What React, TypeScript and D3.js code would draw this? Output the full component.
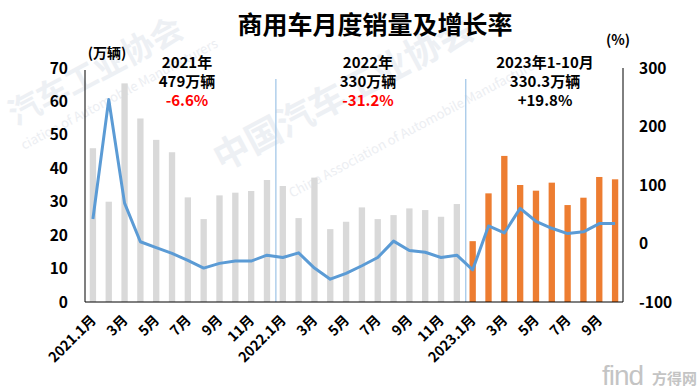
import { useMemo } from 'react';
import * as d3 from 'd3';

const months = [
  '2021.1', '2021.2', '2021.3', '2021.4', '2021.5', '2021.6', '2021.7', '2021.8', '2021.9', '2021.10', '2021.11', '2021.12',
  '2022.1', '2022.2', '2022.3', '2022.4', '2022.5', '2022.6', '2022.7', '2022.8', '2022.9', '2022.10', '2022.11', '2022.12',
  '2023.1', '2023.2', '2023.3', '2023.4', '2023.5', '2023.6', '2023.7', '2023.8', '2023.9', '2023.10',
];

// monthly sales, 万辆
const sales = [
  46.0, 30.0, 65.4, 54.9, 48.5, 44.8, 31.3, 24.8, 31.9, 32.7, 33.2, 36.5,
  34.7, 25.1, 37.2, 21.8, 24.0, 28.3, 24.8, 26.0, 28.0, 27.5, 25.5, 29.3,
  18.2, 32.5, 43.7, 35.0, 33.3, 35.7, 29.0, 31.2, 37.4, 36.7,
];

// year-on-year growth, %
const growth = [
  42, 246, 69, 3, -7, -17, -29, -42, -34, -30, -30, -20,
  -24, -16, -42, -61, -51, -38, -24, 4, -12, -15, -24, -20,
  -45, 30, 18, 60, 38, 26, 17, 20, 34, 34,
];

const xLabels = [
  '2021.1月', '', '3月', '', '5月', '', '7月', '', '9月', '', '11月', '',
  '2022.1月', '', '3月', '', '5月', '', '7月', '', '9月', '', '11月', '',
  '2023.1月', '', '3月', '', '5月', '', '7月', '', '9月', '',
];

const leftTicks = [0, 10, 20, 30, 40, 50, 60, 70];
const rightTicks = [-100, 0, 100, 200, 300];

const yearNotes = [
  { x: 187, lines: ['2021年', '479万辆', '-6.6%'], red: true },
  { x: 368, lines: ['2022年', '330万辆', '-31.2%'], red: true },
  { x: 545, lines: ['2023年1-10月', '330.3万辆', '+19.8%'], red: false },
];

const W = 700;
const H = 391;
const PLOT = { left: 85, right: 623, top: 68, bottom: 302 };
const FONT = '"Noto Sans CJK SC", "Noto Sans", sans-serif';

export default function App() {
  const { x, yL, yR, linePath } = useMemo(() => {
    const x = d3.scaleBand<string>().domain(months).range([PLOT.left, PLOT.right]).paddingInner(0.6).paddingOuter(0.3);
    const yL = d3.scaleLinear().domain([0, 70]).range([PLOT.bottom, PLOT.top]);
    const yR = d3.scaleLinear().domain([-100, 300]).range([PLOT.bottom, PLOT.top]);
    const line = d3
      .line<number>()
      .x((_, i) => (x(months[i]) ?? 0) + x.bandwidth() / 2)
      .y((d) => yR(d));
    return { x, yL, yR, linePath: line(growth) ?? '' };
  }, []);

  const step = x.step();
  const bandStart = (i: number) => PLOT.left + x.paddingOuter() * step + i * step - (x.paddingInner() * step) / 2;
  const center = (i: number) => (x(months[i]) ?? 0) + x.bandwidth() / 2;

  return (
    <svg
      width={W}
      height={H}
      viewBox={`0 0 ${W} ${H}`}
      style={{ position: 'absolute', left: 0, top: 0, background: '#fff', fontFamily: FONT }}
    >
      <rect x={0} y={0} width={W} height={H} fill="#fff" />

      {/* faint watermarks */}
      <g fill="#edf0f4" fontWeight={700}>
        <text x={16} y={126} fontSize={32} transform="rotate(-28 16 126)">汽车工业协会</text>
        <text x={222} y={172} fontSize={36} transform="rotate(-28 222 172)">中国汽车工业协会</text>
      </g>
      <g fill="#eceef2" fontSize={13}>
        <text x={24} y={150} transform="rotate(-28 24 150)">ciation of Automobile Manufacturers</text>
        <text x={292} y={198} transform="rotate(-28 292 198)">China Association of Automobile Manufacturers</text>
      </g>

      {/* title */}
      <text x={375} y={34} textAnchor="middle" fontSize={25} fontWeight={700} fill="#000">
        商用车月度销量及增长率
      </text>

      {/* unit labels */}
      <text x={107} y={58} textAnchor="middle" fontSize={14} fontWeight={700} fill="#000">(万辆)</text>
      <text x={618} y={45} textAnchor="middle" fontSize={14} fontWeight={700} fill="#000">(%)</text>

      {/* bars */}
      {sales.map((v, i) => (
        <rect
          key={months[i]}
          x={x(months[i])}
          y={yL(v)}
          width={x.bandwidth()}
          height={yL(0) - yL(v)}
          fill={i >= 24 ? '#ed7d31' : '#d9d9d9'}
        />
      ))}

      {/* year separators */}
      {[12, 24].map((i) => (
        <line
          key={i}
          x1={bandStart(i) + 1}
          x2={bandStart(i) + 1}
          y1={79}
          y2={PLOT.bottom}
          stroke="#9dc3e6"
          strokeWidth={1.2}
        />
      ))}

      {/* growth line */}
      <path d={linePath} fill="none" stroke="#5b9bd5" strokeWidth={3} strokeLinejoin="round" />

      {/* axes frame */}
      <line x1={PLOT.left} x2={PLOT.left} y1={PLOT.top + 2} y2={PLOT.bottom} stroke="#000" strokeWidth={1} />
      <line x1={PLOT.right} x2={PLOT.right} y1={PLOT.top} y2={PLOT.bottom} stroke="#000" strokeWidth={1} />
      <line x1={PLOT.left} x2={PLOT.right} y1={PLOT.bottom} y2={PLOT.bottom} stroke="#000" strokeWidth={1} />

      {/* left ticks */}
      {leftTicks.map((t) => (
        <text key={t} x={68} y={yL(t)} dy="0.36em" textAnchor="end" fontSize={15.5} fontWeight={700} fill="#000">
          {t}
        </text>
      ))}

      {/* right ticks */}
      {rightTicks.map((t) => (
        <text key={t} x={639} y={yR(t)} dy="0.36em" textAnchor="start" fontSize={15.5} fontWeight={700} fill="#000">
          {t}
        </text>
      ))}

      {/* x labels */}
      {xLabels.map((l, i) =>
        l ? (
          <text
            key={i}
            x={center(i) + 4}
            y={321}
            textAnchor="end"
            fontSize={14}
            fontWeight={700}
            fill="#000"
            transform={`rotate(-45 ${center(i) + 4} 321)`}
          >
            {l}
          </text>
        ) : null
      )}

      {/* year notes */}
      {yearNotes.map((n) => (
        <g key={n.x} textAnchor="middle" fontSize={15} fontWeight={700}>
          <text x={n.x} y={68} fill="#000">{n.lines[0]}</text>
          <text x={n.x} y={87} fill="#000">{n.lines[1]}</text>
          <text x={n.x} y={106} fill={n.red ? '#ff0000' : '#000'}>{n.lines[2]}</text>
        </g>
      ))}

      {/* source logo */}
      <g fill="#c4c4c4">
        <text x={602} y={385} fontSize={28} fontFamily="Liberation Sans, sans-serif" letterSpacing={-1}>find</text>
        <text x={652} y={384} fontSize={15} fontWeight={700}>方得网</text>
      </g>
    </svg>
  );
}
